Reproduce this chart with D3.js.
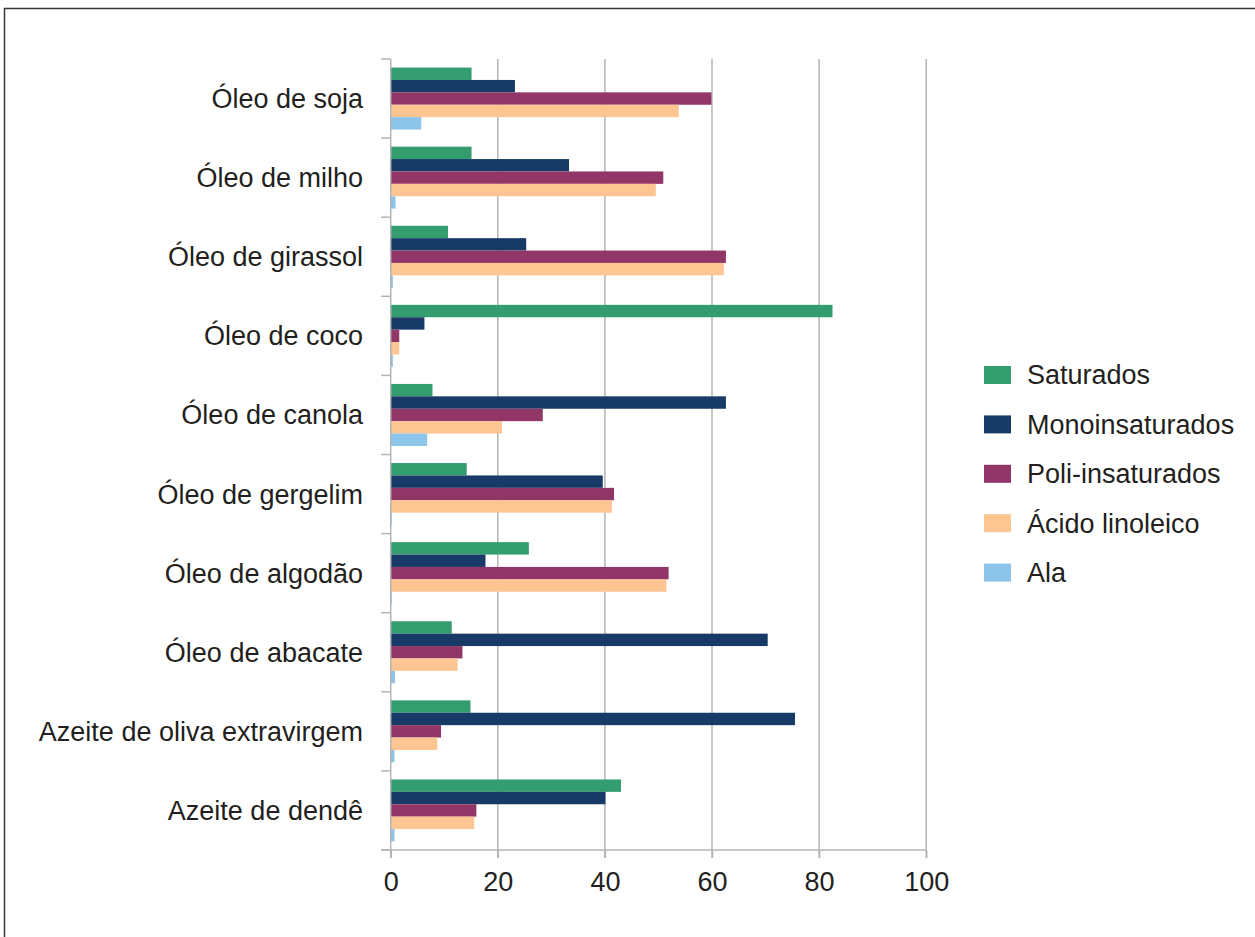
<!doctype html>
<html lang="pt">

<head>
    <meta charset="UTF-8" />
    <script src="https://d3js.org/d3.v7.min.js"></script>
    <title>Composição dos óleos</title>
    <style>
        body { margin: 0; background: white; }
        text { font-family: "Liberation Sans", Arial, sans-serif; fill: #231f20; }
    </style>
</head>

<body>
    <div id="chart"></div>
    <script type="module">
        // Data
        const oils = [
            "Óleo de soja", "Óleo de milho", "Óleo de girassol", "Óleo de coco",
            "Óleo de canola", "Óleo de gergelim", "Óleo de algodão", "Óleo de abacate",
            "Azeite de oliva extravirgem", "Azeite de dendê"
        ]
        const series = ["Saturados", "Monoinsaturados", "Poli-insaturados", "Ácido linoleico", "Ala"]

        const saturados = [15.1, 15.1, 10.7, 82.5, 7.8, 14.2, 25.8, 11.4, 14.9, 43.0]
        const monoinsaturados = [23.2, 33.3, 25.3, 6.3, 62.6, 39.6, 17.7, 70.4, 75.5, 40.1]
        const poliinsaturados = [59.9, 50.9, 62.6, 1.6, 28.4, 41.7, 51.9, 13.4, 9.4, 16.0]
        const acidoLinoleico = [53.8, 49.5, 62.2, 1.6, 20.8, 41.3, 51.5, 12.5, 8.7, 15.6]
        const ala = [5.7, 0.9, 0.4, 0.4, 6.8, 0.2, 0.2, 0.8, 0.7, 0.7]

        const xTicks = [0, 20, 40, 60, 80, 100]
        const colors = ["#349d70", "#183a66", "#923668", "#fcc592", "#8cc4ea"]

        const valueLists = [saturados, monoinsaturados, poliinsaturados, acidoLinoleico, ala]
        const rows = oils.map((name, i) => ({
            name,
            values: series.map((s, j) => ({ key: s, value: valueLists[j][i] }))
        }))

        const W = 1255, H = 937
        const svg = d3.select("#chart").append("svg")
            .attr("width", W)
            .attr("height", H)

        // outer frame (top and left edges visible)
        svg.append("path")
            .attr("d", `M4.5,${H} V8.5 H${W}`)
            .attr("fill", "none")
            .attr("stroke", "#3a3a3a")
            .attr("stroke-width", 1.5)

        const x = d3.scaleLinear().domain([0, 100]).range([390.7, 926.2])
        const y0 = d3.scaleBand().domain(oils).range([59, 850]).padding(0)
        const y1 = d3.scaleBand().domain(series).range([0, y0.bandwidth()])
            .paddingInner(0).paddingOuter(0.69)
        const color = d3.scaleOrdinal().domain(series).range(colors)

        const gridColor = "#b4b4b4"

        // vertical gridlines (extend below axis as ticks)
        svg.append("g")
            .selectAll("line")
            .data(xTicks.slice(1))
            .join("line")
            .attr("x1", d => x(d)).attr("x2", d => x(d))
            .attr("y1", 59).attr("y2", 858)
            .attr("stroke", gridColor)
            .attr("stroke-width", 1.5)

        // bars
        svg.append("g")
            .selectAll("g")
            .data(rows)
            .join("g")
            .attr("transform", d => `translate(0,${y0(d.name)})`)
            .selectAll("rect")
            .data(d => d.values)
            .join("rect")
            .attr("x", x(0))
            .attr("y", d => y1(d.key))
            .attr("width", d => x(d.value) - x(0))
            .attr("height", y1.bandwidth())
            .attr("fill", d => color(d.key))

        // bottom axis
        const xAxis = svg.append("g")
            .attr("transform", "translate(0,850)")
            .call(d3.axisBottom(x).tickValues(xTicks).tickSize(8).tickSizeOuter(0).tickPadding(14))
        xAxis.select(".domain").remove()
        xAxis.append("line")
            .attr("x1", 381).attr("x2", x(100))
            .attr("stroke", gridColor).attr("stroke-width", 1.5)
        xAxis.selectAll(".tick line").attr("stroke", gridColor).attr("stroke-width", 1.5)
        xAxis.selectAll(".tick text")
            .attr("font-size", "27px")
            .attr("font-family", "'Liberation Sans', Arial, sans-serif")
            .attr("fill", "#231f20")

        // left axis: category boundaries as ticks
        const yAxis = svg.append("g")
        yAxis.append("line")
            .attr("x1", x(0)).attr("x2", x(0))
            .attr("y1", 59).attr("y2", 858)
            .attr("stroke", gridColor).attr("stroke-width", 1.5)
        yAxis.selectAll(".btick")
            .data(oils.map(o => y0(o)).concat([850]))
            .join("line")
            .attr("class", "btick")
            .attr("x1", 381).attr("x2", x(0))
            .attr("y1", d => d).attr("y2", d => d)
            .attr("stroke", gridColor).attr("stroke-width", 1.5)
        yAxis.selectAll(".label")
            .data(oils)
            .join("text")
            .attr("class", "label")
            .attr("x", 363)
            .attr("y", d => y0(d) + y0.bandwidth() / 2)
            .attr("dy", "0.35em")
            .attr("text-anchor", "end")
            .attr("font-size", "27px")
            .text(d => d)

        // legend
        const legend = svg.append("g").attr("transform", "translate(984,375)")
        series.forEach((s, i) => {
            const row = legend.append("g").attr("transform", `translate(0,${i * 49.4})`)
            row.append("rect")
                .attr("y", -9)
                .attr("width", 27)
                .attr("height", 18)
                .attr("fill", color(s))
            row.append("text")
                .attr("x", 43)
                .attr("dy", "0.35em")
                .attr("font-size", "27px")
                .text(s)
        })
    </script>
</body>

</html>
